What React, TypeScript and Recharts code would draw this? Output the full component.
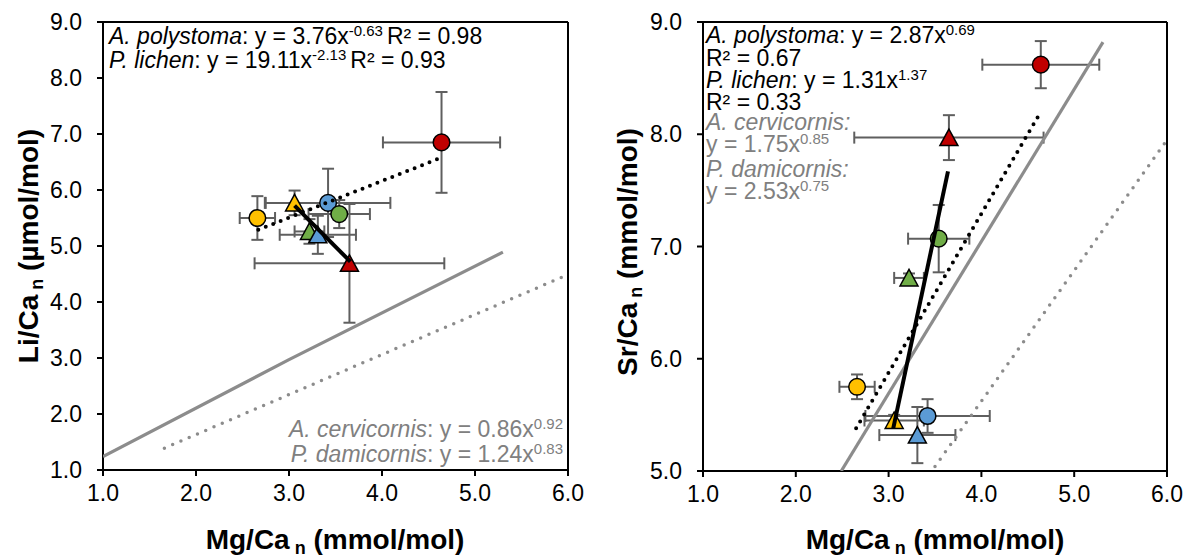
import React from 'react'
import { ScatterChart, Scatter, XAxis, YAxis, ErrorBar, ReferenceLine } from 'recharts'

const FONT = 'Arial, "Liberation Sans", sans-serif'

// one entry per sample group: 4 circles (A. polystoma), 4 triangles (P. lichen)
const pointShape = ['circle', 'circle', 'circle', 'circle', 'triangle', 'triangle', 'triangle', 'triangle']
const pointColor = ['#5B9BD5', '#70AD47', '#C00000', '#FFC000', '#FFC000', '#70AD47', '#5B9BD5', '#C00000']

const mgCa = [3.42, 3.54, 4.64, 2.66, 3.06, 3.22, 3.31, 3.65]
const mgCaErr = [0.67, 0.33, 0.63, 0.19, 0.32, 0.16, 0.41, 1.02]
const liCa = [5.77, 5.57, 6.85, 5.5, 5.77, 5.26, 5.2, 4.69]
const liCaErr = [0.61, 0.25, 0.9, 0.39, 0.22, 0.22, 0.34, 1.06]
const srCa = [5.49, 7.07, 8.62, 5.75, 5.45, 6.72, 5.32, 7.97]
const srCaErr = [0.15, 0.3, 0.21, 0.11, 0.05, 0.04, 0.25, 0.2]

const xTicks = [1, 2, 3, 4, 5, 6]
const liTicks = [1, 2, 3, 4, 5, 6, 7, 8, 9]
const srTicks = [5, 6, 7, 8, 9]

// trend lines
const liPolystomaLine = [{ x: 2.67, y: 5.29 }, { x: 4.64, y: 6.58 }]
const liLichenLine = [{ x: 3.06, y: 5.72 }, { x: 3.66, y: 4.72 }]
const liCervicornisLine = [{ x: 1.0, y: 1.24 }, { x: 3.0, y: 2.97 }, { x: 5.3, y: 4.89 }]
const liDamicornisLine = [{ x: 1.66, y: 1.39 }, { x: 6.0, y: 4.49 }]
const srPolystomaLine = [{ x: 2.65, y: 5.38 }, { x: 4.64, y: 8.2 }]
const srLichenLine = [{ x: 3.05, y: 5.38 }, { x: 3.64, y: 7.67 }]
const srCervicornisLine = [{ x: 2.49, y: 5.0 }, { x: 5.31, y: 8.82 }]
const srDamicornisLine = [{ x: 3.5, y: 5.04 }, { x: 6.0, y: 7.95 }]

const liPoints = mgCa.map((x, i) => ({ x, y: liCa[i], ex: mgCaErr[i], ey: liCaErr[i], color: pointColor[i], shape: pointShape[i] }))
const srPoints = mgCa.map((x, i) => ({ x, y: srCa[i], ex: mgCaErr[i], ey: srCaErr[i], color: pointColor[i], shape: pointShape[i] }))

function Marker(props: any) {
  const { cx, cy, payload } = props
  if (payload.shape === 'triangle') {
    return (
      <polygon
        points={`${cx},${cy - 8.5} ${cx + 9},${cy + 8} ${cx - 9},${cy + 8}`}
        fill={payload.color}
        stroke="#000"
        strokeWidth={1.5}
      />
    )
  }
  return <circle cx={cx} cy={cy} r={8.3} fill={payload.color} stroke="#000" strokeWidth={1.5} />
}

const noShape = () => <g />

const blackSolid = { stroke: '#000', strokeWidth: 4 }
const blackDots = { stroke: '#000', strokeWidth: 4, strokeDasharray: '0 8', strokeLinecap: 'round' }
const graySolid = { stroke: '#8c8c8c', strokeWidth: 3.2 }
const grayDots = { stroke: '#8c8c8c', strokeWidth: 3.5, strokeDasharray: '0 9', strokeLinecap: 'round' }

interface PanelProps {
  width: number
  yWidth: number
  right: number
  bottom: number
  yDomain: [number, number]
  yTicks: number[]
  points: any[]
  lines: { data: { x: number; y: number }[]; style: any }[]
}

function Panel({ width, yWidth, right, bottom, yDomain, yTicks, points, lines }: PanelProps) {
  const axisLine = { stroke: '#000', strokeWidth: 2 }
  const tick = { fill: '#000', fontSize: 23, fontFamily: FONT }
  return (
    <ScatterChart width={width} height={557} margin={{ top: 22, right, left: 0, bottom }}>
      <XAxis
        type="number"
        dataKey="x"
        domain={[1, 6]}
        ticks={xTicks}
        allowDataOverflow
        tickFormatter={(v: number) => v.toFixed(1)}
        axisLine={axisLine}
        tickLine={axisLine}
        tickSize={6}
        tickMargin={9}
        height={30}
        tick={tick}
      />
      <YAxis
        type="number"
        dataKey="y"
        domain={yDomain}
        ticks={yTicks}
        allowDataOverflow
        tickFormatter={(v: number) => v.toFixed(1)}
        axisLine={axisLine}
        tickLine={axisLine}
        tickSize={6}
        tickMargin={15}
        width={yWidth}
        tick={tick}
      />
      <ReferenceLine y={yDomain[1]} stroke="#000" strokeWidth={2} />
      <ReferenceLine x={6} stroke="#000" strokeWidth={2} />
      <Scatter data={points} shape={Marker} isAnimationActive={false}>
        <ErrorBar dataKey="ex" direction="x" width={6} stroke="#5f5f5f" strokeWidth={2} />
        <ErrorBar dataKey="ey" direction="y" width={6} stroke="#5f5f5f" strokeWidth={2} />
      </Scatter>
      {lines.map((l, i) => (
        <Scatter key={i} data={l.data} shape={noShape} line={l.style} lineType="joint" isAnimationActive={false} />
      ))}
    </ScatterChart>
  )
}

// equation line: italic name, plain part, superscript exponent, optional trailing text
function Eq({ x, y, name, body, sup, after, fill = '#000', anchor = 'start' }: any) {
  return (
    <text x={x} y={y} fontSize={23} fill={fill} textAnchor={anchor}>
      {name && <tspan fontStyle="italic">{name}</tspan>}
      {body}
      <tspan dy={-8} fontSize={15}>{sup}</tspan>
      {after && <tspan dy={8} dx={4} fontSize={23}>{after}</tspan>}
    </text>
  )
}

function AxisTitle({ x, y, main, unit, rotate }: any) {
  return (
    <text
      x={0}
      y={0}
      transform={`translate(${x},${y})${rotate ? ' rotate(-90)' : ''}`}
      fontSize={28}
      fontWeight="bold"
      textAnchor="middle"
      fill="#000"
    >
      {main}
      <tspan fontSize={18} dy={5}> n</tspan>
      <tspan fontSize={28} dy={-5}> {unit}</tspan>
    </text>
  )
}

export default function App() {
  return (
    <div style={{ position: 'absolute', left: 0, top: 0, width: 1191, height: 557, background: '#fff' }}>
      <div style={{ position: 'absolute', left: 0, top: 0 }}>
        <Panel
          width={595}
          yWidth={103}
          right={27}
          bottom={57}
          yDomain={[1, 9]}
          yTicks={liTicks}
          points={liPoints}
          lines={[
            { data: liCervicornisLine, style: graySolid },
            { data: liDamicornisLine, style: grayDots },
            { data: liPolystomaLine, style: blackDots },
            { data: liLichenLine, style: blackSolid },
          ]}
        />
      </div>
      <div style={{ position: 'absolute', left: 595, top: 0 }}>
        <Panel
          width={596}
          yWidth={108}
          right={24}
          bottom={56}
          yDomain={[5, 9]}
          yTicks={srTicks}
          points={srPoints}
          lines={[
            { data: srCervicornisLine, style: graySolid },
            { data: srDamicornisLine, style: grayDots },
            { data: srPolystomaLine, style: blackDots },
            { data: srLichenLine, style: blackSolid },
          ]}
        />
      </div>
      <svg
        width={1191}
        height={557}
        style={{ position: 'absolute', left: 0, top: 0, pointerEvents: 'none' }}
        fontFamily={FONT}
      >
        {/* left panel equations */}
        <Eq x={109} y={44} name="A. polystoma" body=": y = 3.76x" sup="-0.63" after="R² = 0.98" />
        <Eq x={109} y={68} name="P. lichen" body=": y = 19.11x" sup="-2.13" after="R² = 0.93" />
        <Eq x={563} y={437} anchor="end" fill="#808080" name="A. cervicornis" body=": y = 0.86x" sup="0.92" />
        <Eq x={563} y={462} anchor="end" fill="#808080" name="P. damicornis" body=": y = 1.24x" sup="0.83" />

        {/* right panel equations */}
        <Eq x={706} y={43} name="A. polystoma" body=": y = 2.87x" sup="0.69" />
        <text x={706} y={66} fontSize={23} fill="#000">R² = 0.67</text>
        <Eq x={706} y={88} name="P. lichen" body=": y = 1.31x" sup="1.37" />
        <text x={706} y={110} fontSize={23} fill="#000">R² = 0.33</text>
        <text x={706} y={130} fontSize={23} fill="#808080" fontStyle="italic">A. cervicornis:</text>
        <Eq x={706} y={152} fill="#808080" body="y = 1.75x" sup="0.85" />
        <text x={706} y={177} fontSize={23} fill="#808080" fontStyle="italic">P. damicornis:</text>
        <Eq x={706} y={199} fill="#808080" body="y = 2.53x" sup="0.75" />

        {/* axis titles */}
        <AxisTitle x={335} y={549} main="Mg/Ca" unit="(mmol/mol)" />
        <AxisTitle x={935} y={549} main="Mg/Ca" unit="(mmol/mol)" />
        <AxisTitle x={38} y={246} main="Li/Ca" unit="(µmol/mol)" rotate />
        <AxisTitle x={637} y={252} main="Sr/Ca" unit="(mmol/mol)" rotate />
      </svg>
    </div>
  )
}
